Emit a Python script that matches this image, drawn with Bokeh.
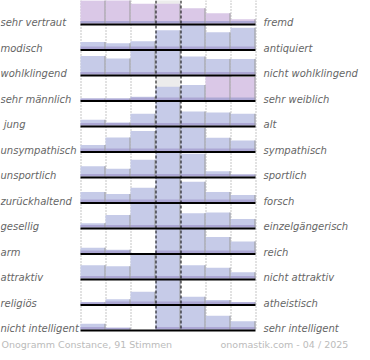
from bokeh.plotting import figure
from bokeh.models import Range1d, ColumnDataSource
from bokeh.core.properties import value
from bokeh.embed import file_html
from bokeh.resources import INLINE

# ---- data -------------------------------------------------------------
left_labels = ["sehr vertraut", "modisch", "wohlklingend", "sehr männlich", "\u00a0jung",
               "unsympathisch", "unsportlich", "zurückhaltend", "gesellig", "arm",
               "attraktiv", "religiös", "nicht intelligent"]
right_labels = ["fremd", "antiquiert", "nicht wohlklingend", "sehr weiblich", "alt",
                "sympathisch", "sportlich", "forsch", "einzelgängerisch", "reich",
                "nicht attraktiv", "atheistisch", "sehr intelligent"]
# relative vote share per scale step (max = 24.5)
row_01 = [23.3, 24.3, 19.7, 19.7, 15.3, 10.3, 4.3]
row_02 = [7.0, 5.7, 7.7, 18.7, 24.3, 16.7, 21.3]
row_03 = [18.6, 16.0, 24.0, 24.0, 18.0, 15.6, 15.6]
row_04 = [1.5, 1.5, 3.3, 13.3, 15.0, 24.3, 23.0]
row_05 = [5.7, 3.0, 11.7, 24.5, 14.0, 13.0, 11.7]
row_06 = [6.0, 13.6, 20.0, 24.5, 23.3, 13.3, 10.6]
row_07 = [10.3, 7.7, 16.7, 24.5, 22.7, 5.3, 2.0]
row_08 = [10.0, 8.0, 14.3, 24.5, 20.3, 10.0, 7.0]
row_09 = [4.3, 12.6, 23.5, 24.5, 14.3, 15.0, 8.6]
row_10 = [5.3, 3.3, 0.0, 24.5, 24.5, 16.0, 11.6]
row_11 = [13.3, 12.3, 24.5, 24.5, 13.3, 10.7, 6.3]
row_12 = [1.7, 4.7, 12.3, 24.5, 7.3, 4.0, 1.7]
row_13 = [5.7, 1.7, 0.0, 24.5, 24.5, 13.7, 8.3]
rows = [row_01, row_02, row_03, row_04, row_05, row_06, row_07, row_08,
        row_09, row_10, row_11, row_12, row_13]
VMAX = 24.5
footer_left = "Onogramm Constance, 91 Stimmen"
footer_right = "onomastik.com - 04 / 2025"

# ---- styling / layout -------------------------------------------------
W, H = 360, 350
X0, BW, NB = 80, 25, 7
BASE0, PITCH, BAR_H = 24, 25.5, 24.5
PINK_CELLS = {(0, j) for j in range(7)} | {(3, 5), (3, 6)}
GREY_ROWS = [0, 3]
LAV = "#c6cbe8"
PINK = "#dac8e7"

p = figure(width=W, height=H, output_backend="svg", toolbar_location=None,
           x_range=Range1d(0, W), y_range=Range1d(H, 0),
           x_axis_type=None, y_axis_type=None, min_border=0)
p.outline_line_color = None
p.grid.visible = False

bases = [BASE0 + PITCH * i for i in range(len(rows))]
last_base = bases[-1]

# grey centre column backgrounds
gl, gr, gt, gb = [], [], [], []
for i in GREY_ROWS:
    gl.append(X0 + 3 * BW); gr.append(X0 + 4 * BW)
    gt.append(bases[i] - BAR_H - 1); gb.append(bases[i])
p.quad(left=gl, right=gr, top=gt, bottom=gb, fill_color="#ececec", line_color=None)

# dotted grid lines
for k in [0, 1, 2, 5, 6, 7]:
    x = X0 + k * BW + 0.5
    p.line([x, x], [0, last_base], line_color="#8a8a8a", line_width=1, line_dash="1 2")

# bars
L, R, T, B, C = [], [], [], [], []
SL, SR, ST, SB = [], [], [], []
ex, ey = [], []
for i, vals in enumerate(rows):
    base = bases[i] - 1
    for j, v in enumerate(vals):
        if v <= 0:
            continue
        h = v / VMAX * BAR_H
        l = X0 + j * BW
        L.append(l); R.append(l + BW); B.append(base); T.append(base - h)
        C.append(PINK if (i, j) in PINK_CELLS else LAV)
        sh = min(2.5, h)
        SL.append(l); SR.append(l + BW); SB.append(base); ST.append(base - sh)
        ex.append([l + BW - 0.5, l + BW - 0.5]); ey.append([base, base - h])
p.quad(left=L, right=R, top=T, bottom=B, fill_color=C, line_color=None)
p.quad(left=SL, right=SR, top=ST, bottom=SB, fill_color="#aca7d4", line_color=None)
p.multi_line(xs=ex, ys=ey, line_color="#9a9a9a", line_width=1)

# baselines
for b in bases:
    p.line([X0, X0 + NB * BW], [b, b], line_color="black", line_width=2)

# dashed centre lines
for k in [3, 4]:
    x = X0 + k * BW + 0.5
    p.line([x, x], [0, last_base], line_color="black", line_width=1, line_dash="3 2")

# labels
src_l = ColumnDataSource(dict(x=[0] * len(rows), y=[b - 2 for b in bases], t=left_labels))
src_r = ColumnDataSource(dict(x=[X0 + NB * BW + 8] * len(rows), y=[b - 2 for b in bases], t=right_labels))
for src in (src_l, src_r):
    p.text(x="x", y="y", text="t", source=src, text_font=value("DejaVu Sans"),
           text_font_style="italic", text_font_size="10px", text_color="#666666",
           text_baseline="alphabetic", text_align="left")

p.text(x=[1], y=[last_base + 14], text=[footer_left], text_font=value("DejaVu Sans"),
       text_font_size="9.5px", text_color="#bbbbbb", text_baseline="alphabetic")
p.text(x=[220], y=[last_base + 14], text=[footer_right], text_font=value("DejaVu Sans"),
       text_font_size="9.5px", text_color="#bbbbbb", text_baseline="alphabetic")

open("out.html", "w").write(file_html(p, INLINE))
